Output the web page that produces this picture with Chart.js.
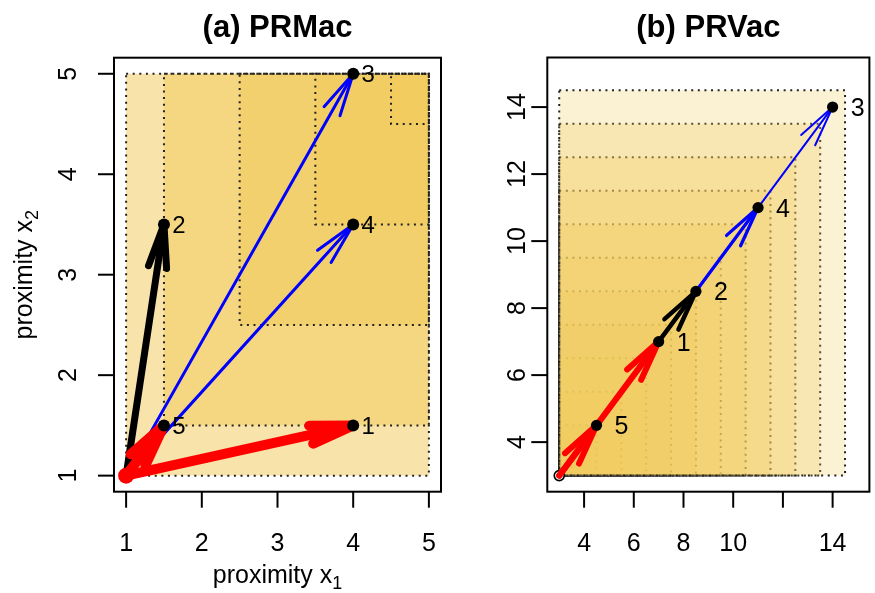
<!DOCTYPE html>
<html>
<head>
<meta charset="utf-8">
<script src="https://cdn.jsdelivr.net/npm/chart.js@4.4.0/dist/chart.umd.min.js"></script>
<style>
html, body { margin: 0; padding: 0; background: #fff; }
#wrap { position: relative; width: 875px; height: 593px; overflow: hidden; }
canvas { position: absolute; top: 0; }
</style>
</head>
<body>
<div id="wrap">
  <canvas id="chartA" width="460" height="593" style="left:0"></canvas>
  <canvas id="chartB" width="415" height="593" style="left:460px"></canvas>
</div>
<script>
// ── (a) PRMac ──
const pointLabelsA = ['1', '2', '3', '4', '5'];
const pointXA = [4, 1.5, 4, 4, 1.5];
const pointYA = [1.5, 3.5, 5, 3.5, 1.5];
const originA = [1, 1];
const rectLoA = [1, 1.5, 2.5, 3.5, 4.5];   // lower-left corner (x = y)
const rectHiA = [5, 5, 5, 5, 5];           // upper-right corner (x = y)
const ticksXA = [1, 2, 3, 4, 5];
const tickLabelsXA = ['1', '2', '3', '4', '5'];
const ticksYA = [1, 2, 3, 4, 5];
const tickLabelsYA = ['1', '2', '3', '4', '5'];

// ── (b) PRVac ──
const pointLabelsB = ['1', '2', '3', '4', '5'];
const pointXB = [7, 8.5, 14, 11, 4.5];
const pointYB = [7, 8.5, 14, 11, 4.5];
const originB = [3, 3];
const rectLoB = [3, 3, 3, 3, 3, 3, 3, 3, 3, 3, 3, 3];
const rectHiB = [3.5, 4.5, 5.5, 6.5, 7.5, 8.5, 9.5, 10.5, 11.5, 12.5, 13.5, 14.5];
const ticksXB = [4, 6, 8, 10, 12, 14];
const tickLabelsXB = ['4', '6', '8', '10', '', '14'];
const ticksYB = [4, 6, 8, 10, 12, 14];
const tickLabelsYB = ['4', '6', '8', '10', '12', '14'];

// arrows from the origin to these points, in drawing order (blue below, red on top)
const arrowTargets = ['3', '4', '2', '1', '5'];
const arrowColors = ['#0000FF', '#0000FF', '#000000', '#FF0000', '#FF0000'];

const FONT = '"Liberation Sans", Arial, Helvetica, sans-serif';

function drawArrow(ctx, x0, y0, x1, y1, color, w, len, ang) {
    ctx.strokeStyle = color;
    ctx.lineWidth = w;
    ctx.lineCap = 'round';
    ctx.lineJoin = 'round';
    ctx.beginPath();
    ctx.moveTo(x0, y0);
    ctx.lineTo(x1, y1);
    ctx.stroke();
    const t = Math.atan2(y1 - y0, x1 - x0);
    ctx.beginPath();
    ctx.moveTo(x1 - len * Math.cos(t - ang), y1 - len * Math.sin(t - ang));
    ctx.lineTo(x1, y1);
    ctx.lineTo(x1 - len * Math.cos(t + ang), y1 - len * Math.sin(t + ang));
    ctx.stroke();
}

function subText(ctx, main, sub, x, y, size) {
    // "main" + subscript, centred on x
    ctx.font = size + 'px ' + FONT;
    const w1 = ctx.measureText(main).width;
    ctx.font = Math.round(size * 0.7) + 'px ' + FONT;
    const w2 = ctx.measureText(sub).width;
    const left = x - (w1 + w2) / 2;
    ctx.textAlign = 'left';
    ctx.font = size + 'px ' + FONT;
    ctx.fillText(main, left, y);
    ctx.font = Math.round(size * 0.7) + 'px ' + FONT;
    ctx.fillText(sub, left + w1, y + size * 0.25);
}

const panelPlugin = {
    id: 'panel',
    beforeDatasetsDraw(chart, args, o) {
        const { ctx, scales: { x, y } } = chart;
        ctx.save();
        // shaded dominance regions
        ctx.lineWidth = 2;
        ctx.strokeStyle = '#222';
        ctx.setLineDash([2, 4.6]);
        o.rectLo.forEach((lo, i) => {
            const hi = o.rectHi[i];
            const xl = x.getPixelForValue(lo), xr = x.getPixelForValue(hi);
            const yb = y.getPixelForValue(lo), yt = y.getPixelForValue(hi);
            ctx.fillStyle = o.fill;
            ctx.fillRect(xl, yt, xr - xl, yb - yt);
            if (o.strokeEach) ctx.strokeRect(xl, yt, xr - xl, yb - yt);
        });
        if (!o.strokeEach) {
            o.rectLo.forEach((lo, i) => {
                const hi = o.rectHi[i];
                const xl = x.getPixelForValue(lo), xr = x.getPixelForValue(hi);
                const yb = y.getPixelForValue(lo), yt = y.getPixelForValue(hi);
                ctx.strokeRect(xl, yt, xr - xl, yb - yt);
            });
        }
        ctx.setLineDash([]);

        const ox = x.getPixelForValue(o.origin[0]);
        const oy = y.getPixelForValue(o.origin[1]);
        if (o.ring) {
            ctx.fillStyle = '#fff';
            ctx.strokeStyle = '#000';
            ctx.lineWidth = 1.6;
            ctx.beginPath();
            ctx.arc(ox, oy, 5, 0, Math.PI * 2);
            ctx.fill();
            ctx.stroke();
        }
        // arrows
        arrowTargets.forEach((lab, i) => {
            const k = o.labels.indexOf(lab);
            drawArrow(ctx, ox, oy,
                x.getPixelForValue(o.px[k]), y.getPixelForValue(o.py[k]),
                arrowColors[i], o.widths[i], o.headLen, o.headAng);
        });
        ctx.restore();
    },
    afterDatasetsDraw(chart, args, o) {
        const { ctx, chartArea: a, scales: { x, y } } = chart;
        ctx.save();
        ctx.fillStyle = '#000';
        // point labels
        ctx.font = o.labelSize + 'px ' + FONT;
        ctx.textAlign = 'center';
        ctx.textBaseline = 'alphabetic';
        o.labels.forEach((lab, k) => {
            ctx.fillText(lab, x.getPixelForValue(o.px[k]) + o.labelOff,
                y.getPixelForValue(o.py[k]) + o.labelSize * 0.36);
        });

        // box
        ctx.strokeStyle = '#000';
        ctx.lineWidth = 2;
        ctx.strokeRect(a.left, a.top, a.right - a.left, a.bottom - a.top);

        // x axis
        ctx.font = '25px ' + FONT;
        ctx.textAlign = 'center';
        o.ticksX.forEach((v, i) => {
            const px = x.getPixelForValue(v);
            ctx.beginPath();
            ctx.moveTo(px, a.bottom);
            ctx.lineTo(px, a.bottom + 16);
            ctx.stroke();
            ctx.fillText(o.tickLabelsX[i], px, 551);
        });
        // y axis
        o.ticksY.forEach((v, i) => {
            const py = y.getPixelForValue(v);
            ctx.beginPath();
            ctx.moveTo(a.left, py);
            ctx.lineTo(a.left - 16, py);
            ctx.stroke();
            ctx.save();
            ctx.translate(a.left - o.yLabelGap, py);
            ctx.rotate(-Math.PI / 2);
            ctx.fillText(o.tickLabelsY[i], 0, 0);
            ctx.restore();
        });

        // title
        const cx = (a.left + a.right) / 2;
        ctx.font = 'bold 31px ' + FONT;
        ctx.textAlign = 'center';
        ctx.fillText(o.title, cx, 37);

        // axis titles
        if (o.xTitle) subText(ctx, 'proximity x', '1', cx, 583, 25);
        if (o.yTitle) {
            ctx.save();
            ctx.translate(32, (a.top + a.bottom) / 2);
            ctx.rotate(-Math.PI / 2);
            subText(ctx, 'proximity x', '2', 0, 0, 25);
            ctx.restore();
        }
        ctx.restore();
    }
};

function makePanel(id, d) {
    return new Chart(document.getElementById(id), {
        type: 'scatter',
        data: {
            datasets: [
                {
                    data: d.px.map((v, i) => ({ x: v, y: d.py[i] })),
                    pointRadius: d.dotR,
                    backgroundColor: '#000',
                    borderWidth: 0,
                },
                {
                    data: d.ring ? [] : [{ x: d.origin[0], y: d.origin[1] }],
                    pointRadius: 8,
                    backgroundColor: '#FF0000',
                    borderWidth: 0,
                },
            ],
        },
        options: {
            responsive: false,
            animation: false,
            events: [],
            layout: { padding: d.padding },
            scales: {
                x: { type: 'linear', min: d.lim[0], max: d.lim[1], display: false },
                y: { type: 'linear', min: d.lim[0], max: d.lim[1], display: false },
            },
            plugins: {
                legend: { display: false },
                tooltip: { enabled: false },
                panel: d,
            },
        },
        plugins: [panelPlugin],
    });
}

makePanel('chartA', {
    title: '(a) PRMac',
    labels: pointLabelsA, px: pointXA, py: pointYA, origin: originA,
    rectLo: rectLoA, rectHi: rectHiA,
    fill: 'rgba(241,204,92,0.52)', strokeEach: false, ring: false,
    ticksX: ticksXA, tickLabelsX: tickLabelsXA, ticksY: ticksYA, tickLabelsY: tickLabelsYA,
    lim: [0.84, 5.16],
    padding: { left: 114, right: 19, top: 57.7, bottom: 101.3 },
    widths: [3, 3, 7, 10, 10], headLen: 44, headAng: 12 * Math.PI / 180,
    dotR: 6, labelSize: 24, labelOff: 15, yLabelGap: 38,
    xTitle: true, yTitle: true,
});

makePanel('chartB', {
    title: '(b) PRVac',
    labels: pointLabelsB, px: pointXB, py: pointYB, origin: originB,
    rectLo: rectLoB, rectHi: rectHiB,
    fill: 'rgba(241,204,92,0.27)', strokeEach: true, ring: true,
    ticksX: ticksXB, tickLabelsX: tickLabelsXB, ticksY: ticksYB, tickLabelsY: tickLabelsYB,
    lim: [2.52, 15.48],
    padding: { left: 87.3, right: 0.7, top: 57.5, bottom: 101.3 },
    widths: [2, 3.3, 4.5, 6, 6], headLen: 42, headAng: 12 * Math.PI / 180,
    dotR: 5.6, labelSize: 25, labelOff: 25, yLabelGap: 22,
    xTitle: false, yTitle: false,
});
</script>
</body>
</html>
